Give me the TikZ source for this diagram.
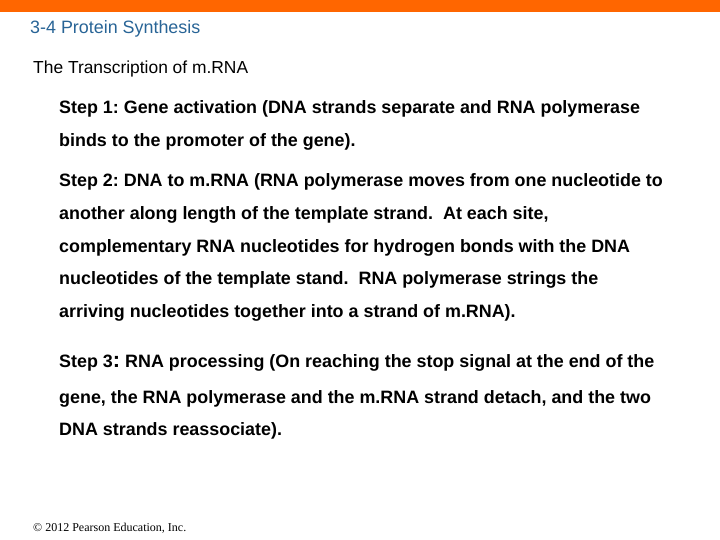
\documentclass[tikz,border=0pt]{standalone}
\usepackage{fontspec}
\setmainfont{Liberation Sans}
\newfontfamily\footfont{Liberation Serif}
\frenchspacing
\definecolor{barorange}{RGB}{255,102,0}
\definecolor{titleblue}{RGB}{40,100,150}
\tikzset{
	line/.style={anchor=base west,inner sep=0pt,font=\fontsize{17.9}{20}\selectfont\bfseries},
	head/.style={anchor=base west,inner sep=0pt,font=\fontsize{17.4}{20}\selectfont}
}
\begin{document}
\begin{tikzpicture}[x=1pt,y=-1pt]
	\useasboundingbox (0,0) rectangle (720,540);
	\fill[barorange] (0,0) rectangle (720,12);
	
	\node[head,text=titleblue,font=\fontsize{17.9}{20}\selectfont] (title) at (30,34) {3-4 Protein Synthesis};
	\node[head] (sub) at (33,74) {The Transcription of m.RNA};
	
	\node[line] (s1a) at (59,114) {Step 1: Gene activation (DNA strands separate and RNA polymerase};
	\node[line] (s1b) at (59,147) {binds to the promoter of the gene).};
	\node[line] (s2a) at (59,187) {Step 2: DNA to m.RNA (RNA polymerase moves from one nucleotide to};
	\node[line] (s2b) at (59,219) {another along length of the template strand.\ \ At each site,};
	\node[line] (s2c) at (59,252) {complementary RNA nucleotides for hydrogen bonds with the DNA};
	\node[line] (s2d) at (59,284) {nucleotides of the template stand.\ \ RNA polymerase strings the};
	\node[line] (s2e) at (59,317) {arriving nucleotides together into a strand of m.RNA).};
	\node[line] (s3a) at (59,367) {Step 3{\fontsize{22}{24}\selectfont:} RNA processing (On reaching the stop signal at the end of the};
	\node[line] (s3b) at (59,403) {gene, the RNA polymerase and the m.RNA strand detach, and the two};
	\node[line] (s3c) at (59,435) {DNA strands reassociate).};
	
	\node[anchor=base west,inner sep=0pt,font=\footfont\fontsize{12}{14}\selectfont] (foot) at (33,531) {\textcopyright\ 2012 Pearson Education, Inc.};
\end{tikzpicture}
\end{document}
